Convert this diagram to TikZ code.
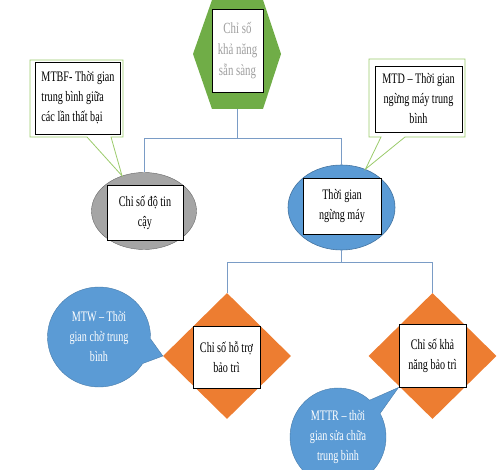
\documentclass[tikz,border=0pt]{standalone}
\usepackage{fontspec}
\setmainfont[FakeStretch=0.7]{Liberation Serif}
\usepackage{xcolor}
\usetikzlibrary{shapes.geometric,shapes.callouts}

\definecolor{hexgreen}{HTML}{70AD47}
\definecolor{diaorange}{HTML}{ED7D31}
\definecolor{ovalblue}{HTML}{5B9BD5}
\definecolor{ovalgray}{HTML}{A5A5A5}
\definecolor{linkblue}{HTML}{7A9CC6}
\definecolor{notegreen}{HTML}{9BCB6B}

\tikzset{
  txtbox/.style={draw=black,line width=0.9pt,fill=white,align=center,inner sep=0pt},
  link/.style={draw=linkblue,line width=0.8pt},
  notebox/.style={rectangle callout,draw=notegreen,fill=white,line width=0.8pt,callout pointer width=24pt},
  notebubble/.style={ellipse callout,fill=ovalblue,draw=ovalblue!80!black,line width=0.4pt,text=white,align=center,inner sep=0pt},
  diamondbox/.style={diamond,fill=diaorange,minimum width=128pt,minimum height=126pt,inner sep=0pt}
}

\begin{document}
\begin{tikzpicture}[x=1pt,y=-1pt,font=\fontsize{14.5}{20}\selectfont]
        \clip (0,0) rectangle (500,470);

        % top: availability
        \fill[hexgreen] (212,0) -- (263,0) -- (281,54) -- (263,109) -- (212,109) -- (193,54) -- cycle;
        \coordinate (hexbot) at (237.5,109);
        \node[txtbox,minimum width=51pt,minimum height=83pt,text=gray!75,font=\fontsize{15.5}{21}\selectfont] (avail) at (237.5,50.5) {Chỉ số\\khả năng\\sẵn sàng};

        % second row
        \node[ellipse,fill=ovalgray,draw=gray!80!black,line width=0.4pt,minimum width=105pt,minimum height=77pt] (rel) at (144,211) {};
        \node[txtbox,minimum width=76pt,minimum height=55pt] (reltxt) at (145,212.5) {Chỉ số độ tin\\cậy};

        \node[ellipse,fill=ovalblue,draw=ovalblue!75!black,line width=0.6pt,minimum width=107pt,minimum height=85pt] (down) at (341.5,207.5) {};
        \node[txtbox,minimum width=78pt,minimum height=56pt] (downtxt) at (342,206) {Thời gian\\ngừng máy};

        % third row
        \node[diamondbox] (support) at (227,356) {};
        \node[txtbox,minimum width=67pt,minimum height=62pt] (suptxt) at (226.5,357) {Chỉ số hỗ trợ\\bảo trì};

        \node[diamondbox] (maint) at (432.5,356) {};
        \node[txtbox,minimum width=67pt,minimum height=63pt] (mainttxt) at (432.5,355.5) {Chỉ số khả\\năng bảo trì};

        % notes
        \node[notebox,minimum width=93pt,minimum height=77pt,callout absolute pointer={(rel.122)}] (mtbf) at (76.5,98.5) {};
        \node[txtbox,align=left,minimum width=85pt,minimum height=72pt] (mtbftxt) at (78,98) {MTBF- Thời gian\\trung bình giữa\\các lần thất bại};

        \node[notebox,minimum width=96pt,minimum height=78pt,callout absolute pointer={(down.58)}] (mtd) at (417,98) {};
        \node[txtbox,minimum width=87pt,minimum height=66pt] (mtdtxt) at (418.5,99) {MTD – Thời gian\\ngừng máy trung\\bình};

        \node[notebubble,callout pointer arc=30,minimum width=103pt,minimum height=100pt,callout absolute pointer={(support.west)}] (mtw) at (99,337) {MTW – Thời\\gian chờ trung\\bình};
        \node[notebubble,callout pointer arc=20,minimum width=96pt,minimum height=98pt,callout absolute pointer={(mainttxt.south west)}] (mttr) at (338,437) {MTTR – thời\\gian sửa chữa\\trung bình};

        % connectors
        \draw[link] (hexbot) -- ++(0,29) -| (rel.north);
        \draw[link] (hexbot) -- ++(0,29) -| (down.north);
        \draw[link] (down.south) -- ++(0,12) -| (support.north);
        \draw[link] (down.south) -- ++(0,12) -| (maint.north);
    \end{tikzpicture}
\end{document}
